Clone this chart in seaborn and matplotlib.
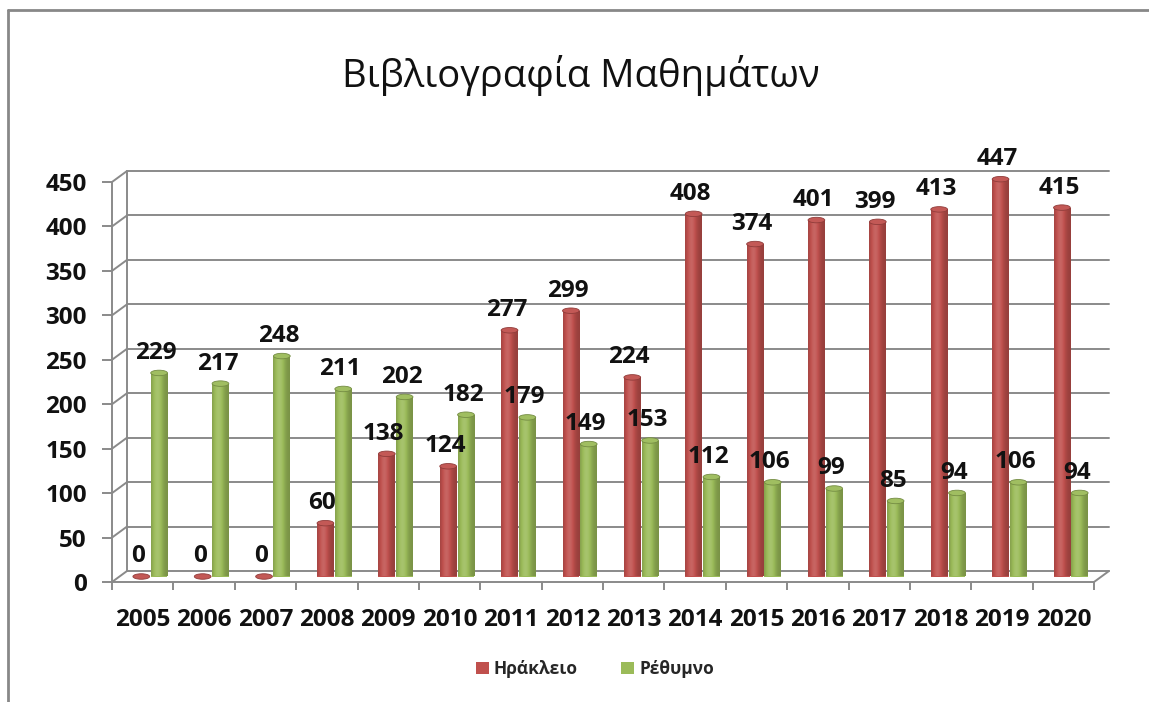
import numpy as np
import pandas as pd
import matplotlib
matplotlib.use("Agg")
import matplotlib.pyplot as plt
from matplotlib.transforms import ScaledTranslation
from matplotlib.patches import Ellipse, Patch
from matplotlib.lines import Line2D
import seaborn as sns

# ---------------- data ----------------
years = ["2005", "2006", "2007", "2008", "2009", "2010", "2011", "2012",
         "2013", "2014", "2015", "2016", "2017", "2018", "2019", "2020"]
heraklion = [0, 0, 0, 60, 138, 124, 277, 299, 224, 408, 374, 401, 399, 413, 447, 415]
rethymno = [229, 217, 248, 211, 202, 182, 179, 149, 153, 112, 106, 99, 85, 94, 106, 94]
series_names = ["Ηράκλειο", "Ρέθυμνο"]
y_ticks = [0, 50, 100, 150, 200, 250, 300, 350, 400, 450]
title = "Βιβλιογραφία Μαθημάτων"

colors = ["#C0504D", "#9BBB59"]

df = pd.DataFrame({
    "year": years * 2,
    "value": heraklion + rethymno,
    "city": [series_names[0]] * len(years) + [series_names[1]] * len(years),
})

sns.set_style("white")
plt.rcParams["font.family"] = ["Open Sans", "DejaVu Sans"]

W, H = 1149, 702
fig = plt.figure(figsize=(W / 100, H / 100), dpi=100)
ax = fig.add_axes([112 / W, (H - 582) / H, 982 / W, 400 / H])

sns.barplot(data=df, x="year", y="value", hue="city", palette=colors,
            width=0.58, gap=0.06, ax=ax, saturation=1, legend=False,
            edgecolor="none", zorder=3)

ax.set_xlim(-0.5, len(years) - 0.5)
ax.set_ylim(0, 450)

px_x = 982 / len(years)          # pixels per category
px_y = 400 / 450                 # pixels per value unit
dx_back, dy_back = 15, 11        # 3D back-wall offset in pixels
dxd, dyd = dx_back / px_x, dy_back / px_y

grid_col = "#8A8A8A"
# back wall gridlines + connectors
for v in y_ticks:
    ax.plot([-0.5 + dxd, len(years) - 0.5 + dxd], [v + dyd, v + dyd],
            color=grid_col, lw=1.4, zorder=1, clip_on=False)
    ax.plot([-0.5, -0.5 + dxd], [v, v + dyd], color=grid_col, lw=1.4,
            zorder=1, clip_on=False)
ax.plot([-0.5 + dxd, -0.5 + dxd], [dyd, 450 + dyd], color=grid_col, lw=1.4,
        zorder=1, clip_on=False)
ax.plot([len(years) - 0.5, len(years) - 0.5 + dxd], [0, dyd], color=grid_col,
        lw=1.4, zorder=1, clip_on=False)

# bar offset (mid depth)
bar_tr = ax.transData + ScaledTranslation(7.5 / 100, 5.5 / 100, fig.dpi_scale_trans)


def shade(c, f):
    c = np.array(matplotlib.colors.to_rgb(c))
    f = np.asarray(f)[:, None]
    dark = c[None, :] * f
    light = c[None, :] + (1 - c[None, :]) * (f - 1)
    return np.clip(np.where(f <= 1, dark, light), 0, 1)


t = np.linspace(0, 1, 64)
profile = 0.78 + 0.34 * np.exp(-((t - 0.38) / 0.32) ** 2)

for cont, col in zip(ax.containers, colors):
    grad = shade(col, profile)[None, :, :]
    for patch in cont.patches:
        patch.set_transform(bar_tr)
        patch.set_clip_on(False)
        x0, w, h = patch.get_x(), patch.get_width(), patch.get_height()
        if h > 0:
            im = ax.imshow(grad, extent=(x0, x0 + w, 0, h), aspect="auto",
                           origin="lower", interpolation="bilinear",
                           zorder=3.5, transform=bar_tr)
            im.set_clip_path(patch)
        cap = Ellipse((x0 + w / 2, h), w, 5.5 / px_y, transform=bar_tr,
                      facecolor=shade(col, [1.05])[0],
                      edgecolor=shade(col, [0.75])[0], lw=0.6,
                      zorder=4, clip_on=False)
        ax.add_patch(cap)
        ax.annotate(f"{int(round(h))}", xy=(x0 + w / 2, h), xycoords=bar_tr,
                    xytext=(-3, 8), textcoords="offset pixels",
                    ha="center", va="bottom", fontsize=17.5, fontweight="bold",
                    color="#111111", zorder=5, annotation_clip=False)

ax.set_xlim(-0.5, len(years) - 0.5)
ax.set_ylim(0, 450)
ax.set_aspect("auto")

# axes styling
for s in ["top", "right"]:
    ax.spines[s].set_visible(False)
for s in ["left", "bottom"]:
    ax.spines[s].set_color(grid_col)
    ax.spines[s].set_linewidth(1.4)

ax.set_yticks(y_ticks)
ax.set_yticklabels([str(v) for v in y_ticks])
ax.tick_params(axis="y", which="major", direction="out", length=7, width=1.4,
               color=grid_col, pad=11, labelsize=17.5, left=True)
ax.set_xticks(range(len(years)))
ax.set_xticklabels(years)
ax.set_xticks(np.arange(-0.5, len(years), 1), minor=True)
ax.tick_params(axis="x", which="major", length=0, pad=19, labelsize=17.5)
ax.tick_params(axis="x", which="minor", direction="out", length=6, width=1.4,
               color=grid_col, bottom=True)
for lab in ax.get_xticklabels() + ax.get_yticklabels():
    lab.set_fontweight("bold")
    lab.set_color("#111111")
ax.set_xlabel("")
ax.set_ylabel("")
ax.grid(False)
ax.set_facecolor("none")

# title
fig.text(581 / W, 1 - 87 / H, title, ha="center", va="baseline", fontsize=27.5,
         color="#111111")

# legend
handles = [Patch(facecolor=c, edgecolor="none") for c in colors]
fig.legend(handles, series_names, loc="center", bbox_to_anchor=(595 / W, 1 - 669 / H),
           ncol=2, frameon=False, handlelength=0.75, handleheight=0.75,
           handletextpad=0.3, columnspacing=2.5,
           prop={"family": ["Open Sans", "DejaVu Sans"], "weight": "bold", "size": 12.5})

# chart border (top and left visible)
fig.add_artist(Line2D([8 / W, 1.0], [1 - 10 / H, 1 - 10 / H], color="#888888", lw=2,
                      transform=fig.transFigure))
fig.add_artist(Line2D([8 / W, 8 / W], [0, 1 - 10 / H], color="#888888", lw=2,
                      transform=fig.transFigure))

fig.savefig("out.png", dpi=100)
